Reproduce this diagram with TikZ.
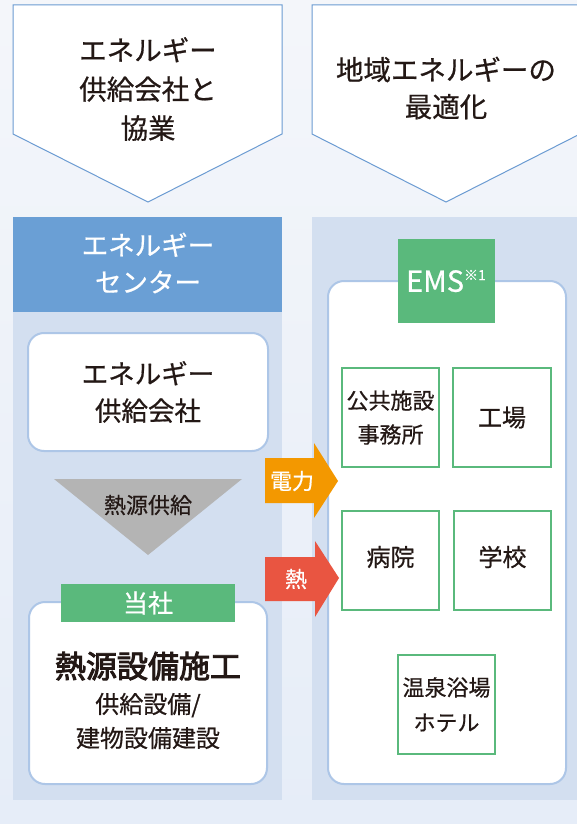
\documentclass[tikz,border=0pt]{standalone}
\usepackage{fontspec}
\setmainfont{Noto Sans CJK JP}[FakeBold=0.6, BoldFont={Noto Sans CJK JP}, BoldFeatures={FakeBold=3}]
\usetikzlibrary{positioning}
\definecolor{bgtop}{HTML}{F4F6FA}
\definecolor{bgbot}{HTML}{E6EDF8}
\definecolor{pentline}{HTML}{6B9BD2}
\definecolor{header}{HTML}{6A9FD5}
\definecolor{panel}{HTML}{D3DFF0}
\definecolor{boxline}{HTML}{ADC6E7}
\definecolor{grn}{HTML}{5AB97C}
\definecolor{gry}{HTML}{B4B4B4}
\definecolor{orng}{HTML}{F39800}
\definecolor{rd}{HTML}{E95541}
\definecolor{txt}{HTML}{231815}
\tikzset{
  fs/.style n args={2}{font=\fontsize{#1}{#2}\selectfont},
  lbl/.style={text=txt, align=center, inner sep=0pt},
  wlbl/.style={text=white, align=center, inner sep=0pt},
  roundbox/.style={draw=boxline, line width=2pt, fill=white, rounded corners=16pt},
  bldg/.style={draw=grn, line width=1.2pt, fill=white},
}
\begin{document}
\begin{tikzpicture}[x=1pt,y=-1pt]
\useasboundingbox (0,0) rectangle (577,824);
\shade[top color=bgtop, bottom color=bgbot] (0,0) rectangle (577,824);
% top pentagons
\draw[pentline, fill=white, line width=1pt] (13,5) -- (282,5) -- (282,134) -- (148,202) -- (13,134) -- cycle;
\draw[pentline, fill=white, line width=1pt] (312,5) -- (580,5) -- (580,134) -- (446,202) -- (312,134) -- cycle;
\node[lbl, fs={27.5}{39}] (t1) at (148,89) {エネルギー\\供給会社と\\協業};
\node[lbl, fs={27.5}{37}] (t2) at (446,88) {地域エネルギーの\\最適化};
% left column
\fill[panel] (13,312) rectangle (282,800);
\fill[header] (13,217) rectangle (282,312);
\node[wlbl, fs={26.5}{37}] (hdr) at (148,263) {エネルギー\\センター};
\draw[roundbox] (28,333) rectangle (268,451);
\node[lbl, fs={26.5}{37}] (esc) at (148,392) {エネルギー\\供給会社};
\fill[gry] (54,479) -- (242,479) -- (148,555) -- cycle;
\node[lbl, fs={22}{26}] (hs) at (148,505) {熱源供給};
\draw[roundbox] (29,602) rectangle (267,784);
\fill[grn] (61,584) rectangle (235,622);
\node[wlbl, fs={25}{30}] (tosha) at (148,603) {当社};
\node[lbl, font=\bfseries\fontsize{31}{36}\selectfont] (main) at (148,666) {熱源設備施工};
\node[lbl, fs={24}{34}] (sub) at (148,721) {供給設備/\\建物設備建設};
% right column
\fill[panel] (312,217) rectangle (577,800);
\draw[roundbox] (328,281) rectangle (566,784);
\fill[grn] (398,239) rectangle (495,323);
\node[wlbl, fs={29}{32}] (ems) at (446,281) {EMS\raisebox{0.4em}{\fontsize{14}{16}\selectfont ※1}};
\node[bldg, minimum width=97pt, minimum height=99pt, lbl, fs={22}{34}] (pub) at (390.5,417.5) {公共施設\\事務所};
\node[bldg, minimum width=98pt, minimum height=99pt, lbl, fs={24}{30}] (fac) at (502,417.5) {工場};
\node[bldg, minimum width=97pt, minimum height=99pt] (hosp) at (390.5,560.5) {};
\node[lbl, fs={24}{30}] (hospt) at (390.5,557) {病院};
\node[bldg, minimum width=97pt, minimum height=99pt] (sch) at (502.5,560.5) {};
\node[lbl, fs={24}{30}] (scht) at (502.5,557) {学校};
\node[bldg, minimum width=97pt, minimum height=99pt, lbl, fs={22}{35}] (hot) at (446.5,704.5) {温泉浴場\\ホテル};
% arrows
\fill[orng] (265,458) -- (314,458) -- (314,443) -- (338,481) -- (314,518) -- (314,503) -- (265,503) -- cycle;
\node[wlbl, fs={22}{26}] (den) at (292,481) {電力};
\fill[rd] (265,557) -- (315,557) -- (315,541) -- (339,578) -- (315,617) -- (315,601) -- (265,601) -- cycle;
\node[wlbl, fs={22}{26}] (netsu) at (296,579) {熱};
\end{tikzpicture}
\end{document}
